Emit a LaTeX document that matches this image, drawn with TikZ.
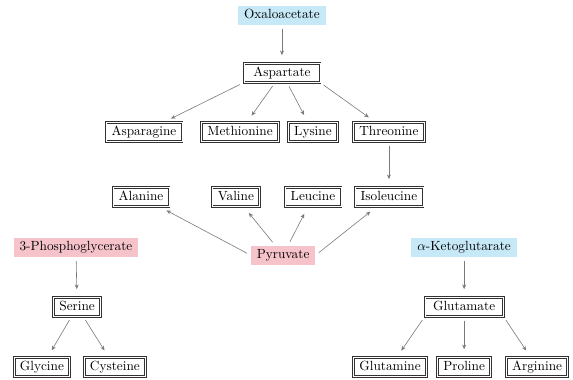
\documentclass[tikz,border=0pt]{standalone}
\usepackage{xcolor}
\usetikzlibrary{arrows.meta}
\definecolor{srcblue}{HTML}{C6E8F7}
\definecolor{srcpink}{HTML}{F6C3CB}
\definecolor{arrgray}{HTML}{7A7A7A}

\begin{document}
\begin{tikzpicture}[>={Stealth[length=3.5pt,width=3pt]},
  amino/.style={draw=black!80, double, double distance=0.55pt, line width=0.75pt,
    inner xsep=4.3pt, inner ysep=2.5pt, text height=7pt, text depth=2pt},
  source/.style={inner xsep=4.5pt, inner ysep=2.7pt, text height=7pt, text depth=2pt},
  arr/.style={->, arrgray, line width=0.45pt, shorten <=3pt, shorten >=6pt}]
  \useasboundingbox (0,0) rectangle (15.16,-10.03);

  % precursors
  \node[source, fill=srcblue] (oxa) at (7.46,-0.40) {Oxaloacetate};
  \node[source, fill=srcpink] (pyr) at (7.49,-6.75) {Pyruvate};
  \node[source, fill=srcpink] (pga) at (2.01,-6.54) {3-Phosphoglycerate};
  \node[source, fill=srcblue] (akg) at (12.28,-6.54) {$\alpha$-Ketoglutarate};

  % amino acids
  \node[amino, inner xsep=7pt] (asp) at (7.46,-1.93) {Aspartate};
  \node[amino] (asn) at (3.81,-3.49) {Asparagine};
  \node[amino] (met) at (6.35,-3.49) {Methionine};
  \node[amino] (lys) at (8.28,-3.49) {Lysine};
  \node[amino] (thr) at (10.29,-3.49) {Threonine};
  \node[amino] (ala) at (3.73,-5.21) {Alanine};
  \node[amino] (val) at (6.24,-5.21) {Valine};
  \node[amino] (leu) at (8.28,-5.21) {Leucine};
  \node[amino] (ile) at (10.29,-5.21) {Isoleucine};
  \node[amino] (ser) at (2.04,-8.12) {Serine};
  \node[amino] (gly) at (1.11,-9.71) {Glycine};
  \node[amino] (cys) at (3.04,-9.71) {Cysteine};
  \node[amino, inner xsep=6pt] (glu) at (12.28,-8.12) {Glutamate};
  \node[amino] (gln) at (10.32,-9.71) {Glutamine};
  \node[amino] (pro) at (12.28,-9.71) {Proline};
  \node[amino] (arg) at (14.21,-9.71) {Arginine};

  % pathways
  \foreach \a/\b in {oxa/asp,asp.south west/asn,asp/met,asp/lys,asp.south east/thr,thr/ile,
                     pyr.west/ala,pyr/val,pyr/leu,pyr.east/ile,
                     pga/ser,ser/gly,ser/cys,
                     akg/glu,glu.south west/gln,glu/pro,glu.south east/arg}{
    \draw[arr] (\a) -- (\b);
  }
\end{tikzpicture}
\end{document}
